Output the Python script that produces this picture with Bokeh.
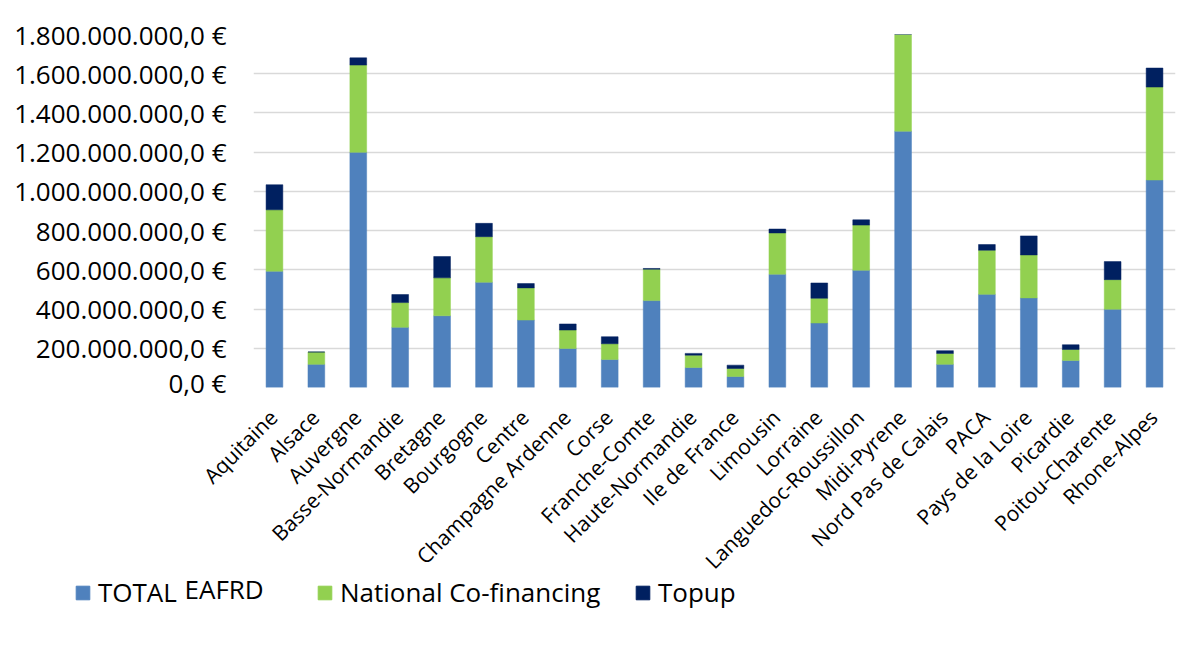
from bokeh.plotting import figure
from bokeh.models import (Range1d, CustomJSTickFormatter, Legend, LegendItem,
                          Label, FixedTicker, ColumnDataSource)
from bokeh.core.properties import value
from bokeh.embed import file_html
from bokeh.resources import INLINE

regions = ["Aquitaine", "Alsace", "Auvergne", "Basse-Normandie", "Bretagne", "Bourgogne",
           "Centre", "Champagne Ardenne", "Corse", "Franche-Comte", "Haute-Normandie",
           "Ile de France", "Limousin", "Lorraine", "Languedoc-Roussillon", "Midi-Pyrene",
           "Nord Pas de Calais", "PACA", "Pays de la Loire", "Picardie", "Poitou-Charente",
           "Rhone-Alpes"]
# values in millions of euros
total_eafrd = [593, 118, 1199, 307, 366, 537, 344, 199, 143, 443, 102,
               56, 578, 329, 598, 1307, 118, 475, 457, 138, 399, 1058]
national_cofin = [313, 63, 445, 126, 193, 232, 164, 94, 80, 160, 63,
                  41, 210, 126, 230, 500, 56, 225, 219, 56, 151, 474]
topup = [128, 0, 37, 41, 109, 68, 22, 31, 36, 4, 9,
         17, 20, 78, 27, 0, 14, 29, 97, 24, 92, 97]
y_ticks = [0, 200, 400, 600, 800, 1000, 1200, 1400, 1600, 1800]

series = ["TOTAL EAFRD", "National Co-financing", "Topup"]
legend_labels = ["TOTAL", "National Co-financing", "Topup"]
colors = ["#4F81BD", "#92D050", "#002060"]

n = len(regions)
xpos = [i + 0.5 for i in range(n)]  # category slot centres
source = ColumnDataSource({"x": xpos, "region": regions,
                           series[0]: total_eafrd, series[1]: national_cofin,
                           series[2]: topup})

FONT = "Open Sans"
W = 1184
H = 648
LEFT, RIGHT, TOP = 253, 9, 34
H_MAIN = 400
FRAME_BOTTOM = 387
H_LOW = H - H_MAIN

# ---------------- main chart ----------------
p = figure(x_range=Range1d(0, n), y_range=Range1d(0, 1800),
           width=W, height=H_MAIN, output_backend="svg", toolbar_location=None,
           min_border_left=LEFT, min_border_right=RIGHT, min_border_top=TOP,
           min_border_bottom=H_MAIN - FRAME_BOTTOM)

rs = p.vbar_stack(series, x="x", width=0.4, source=source, color=colors, line_width=0.5)

p.outline_line_color = None
p.xgrid.grid_line_color = None
p.ygrid.grid_line_color = "#D9D9D9"
p.ygrid.grid_line_width = 1.5
p.ygrid.ticker = FixedTicker(ticks=y_ticks)
p.xaxis.visible = False

p.yaxis.ticker = FixedTicker(ticks=y_ticks)
p.yaxis.formatter = CustomJSTickFormatter(code="""
const v = Math.round(tick * 1e6);
const s = v.toString().replace(/\\B(?=(\\d{3})+(?!\\d))/g, ".");
return s + ",0 \u20ac";
""")
p.yaxis.axis_line_color = None
p.yaxis.major_tick_line_color = None
p.yaxis.minor_tick_line_color = None
p.yaxis.major_label_standoff = 21
p.yaxis.major_label_text_font = FONT
p.yaxis.major_label_text_font_size = "26px"
p.yaxis.major_label_text_color = "#000000"

# ---------------- lower panel: category labels + legend ----------------
slot = (W - LEFT - RIGHT) / n
pl = figure(x_range=Range1d(-LEFT / slot, n + RIGHT / slot), y_range=Range1d(0, H_LOW),
            width=W, height=H_LOW, output_backend="svg", toolbar_location=None,
            min_border_left=0, min_border_right=0, min_border_top=0, min_border_bottom=0)
pl.axis.visible = False
pl.grid.visible = False
pl.outline_line_color = None

pl.text(x="x", y=H_LOW - 3, text="region", source=source, angle=0.785,
        text_align="right", text_baseline="top", x_offset=-11,
        text_font=value(FONT), text_font_size="21px", text_color="#000000")

leg_x = [74, 316, 634]
for i, (lab, col, lx) in enumerate(zip(legend_labels, colors, leg_x)):
    proxy = pl.vbar(x=[xpos[0]], bottom=[0], top=[0], width=0, color=col)
    lg = Legend(items=[LegendItem(label=lab, renderers=[proxy])], location=(lx, 38),
                orientation="horizontal", glyph_width=17, glyph_height=17,
                label_standoff=7, label_text_font=FONT, label_text_font_size="26px",
                label_text_color="#000000", border_line_color=None,
                background_fill_alpha=0, padding=0, margin=0, spacing=0)
    pl.add_layout(lg, "center")

pl.add_layout(Label(x=184, y=60, x_units="screen", y_units="screen", text="EAFRD",
                    text_font=FONT, text_font_size="26px", text_color="#000000",
                    text_baseline="alphabetic"))

open("out.html", "w").write(file_html([p, pl], INLINE))
